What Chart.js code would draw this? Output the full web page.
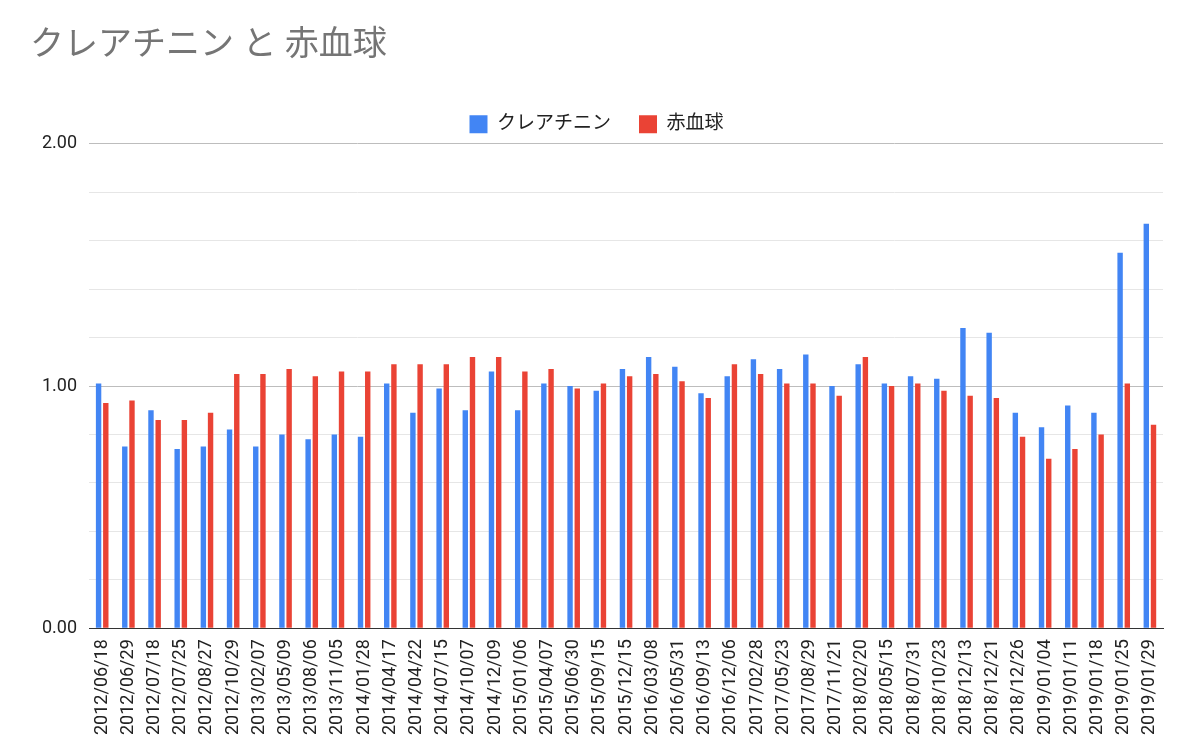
<!DOCTYPE html>
<html><head><meta charset="utf-8">
<script src="https://cdn.jsdelivr.net/npm/chart.js@4"></script>
<style>body{margin:0;background:#fff}#w{width:1200px;height:742px}</style>
</head><body><div id="w"><canvas id="c"></canvas></div>
<script>
const labels=["2012/06/18","2012/06/29","2012/07/18","2012/07/25","2012/08/27","2012/10/29","2013/02/07","2013/05/09","2013/08/06","2013/11/05","2014/01/28","2014/04/17","2014/04/22","2014/07/15","2014/10/07","2014/12/09","2015/01/06","2015/04/07","2015/06/30","2015/09/15","2015/12/15","2016/03/08","2016/05/31","2016/09/13","2016/12/06","2017/02/28","2017/05/23","2017/08/29","2017/11/21","2018/02/20","2018/05/15","2018/07/31","2018/10/23","2018/12/13","2018/12/21","2018/12/26","2019/01/04","2019/01/11","2019/01/18","2019/01/25","2019/01/29"];
const creatinine=[1.01,0.75,0.90,0.74,0.75,0.82,0.75,0.80,0.78,0.80,0.79,1.01,0.89,0.99,0.90,1.06,0.90,1.01,1.00,0.98,1.07,1.12,1.08,0.97,1.04,1.11,1.07,1.13,1.00,1.09,1.01,1.04,1.03,1.24,1.22,0.89,0.83,0.92,0.89,1.55,1.67];
const rbc=[0.93,0.94,0.86,0.86,0.89,1.05,1.05,1.07,1.04,1.06,1.06,1.09,1.09,1.09,1.12,1.12,1.06,1.07,0.99,1.01,1.04,1.05,1.02,0.95,1.09,1.05,1.01,1.01,0.96,1.12,1.00,1.01,0.98,0.96,0.95,0.79,0.70,0.74,0.80,1.01,0.84];
const F="Roboto, 'Noto Sans CJK JP', sans-serif";
new Chart(document.getElementById('c'),{type:'bar',
data:{labels,datasets:[
{label:'クレアチニン',data:creatinine,backgroundColor:'#4285F4',categoryPercentage:0.55,barPercentage:0.75},
{label:'赤血球',data:rbc,backgroundColor:'#EA4335',categoryPercentage:0.55,barPercentage:0.75}]},
options:{responsive:true,maintainAspectRatio:false,animation:false,
layout:{padding:{left:30,right:37,top:26,bottom:4}},
plugins:{title:{display:true,text:'クレアチニン と 赤血球',align:'start',color:'#757575',font:{family:F,size:34,weight:'normal'},padding:{bottom:20}},
legend:{labels:{boxWidth:18,boxHeight:18,color:'#222',font:{family:F,size:19},padding:28}},tooltip:{enabled:false}},
scales:{x:{grid:{display:false},border:{color:'#333'},ticks:{color:'#222',font:{family:F,size:18},maxRotation:90,minRotation:90,autoSkip:false}},
y:{min:0,max:2,border:{display:false},ticks:{stepSize:0.1,color:'#222',font:{family:F,size:18},padding:12,
callback:v=>{const r=Math.round(v*10);return r%5===0?(r/10).toFixed(2):'';}},
grid:{color:c=>{const r=Math.round(c.tick.value*10);return r%5===0?'#bdbdbd':'#e6e6e6';},drawTicks:false}}}}});
</script></body></html>
